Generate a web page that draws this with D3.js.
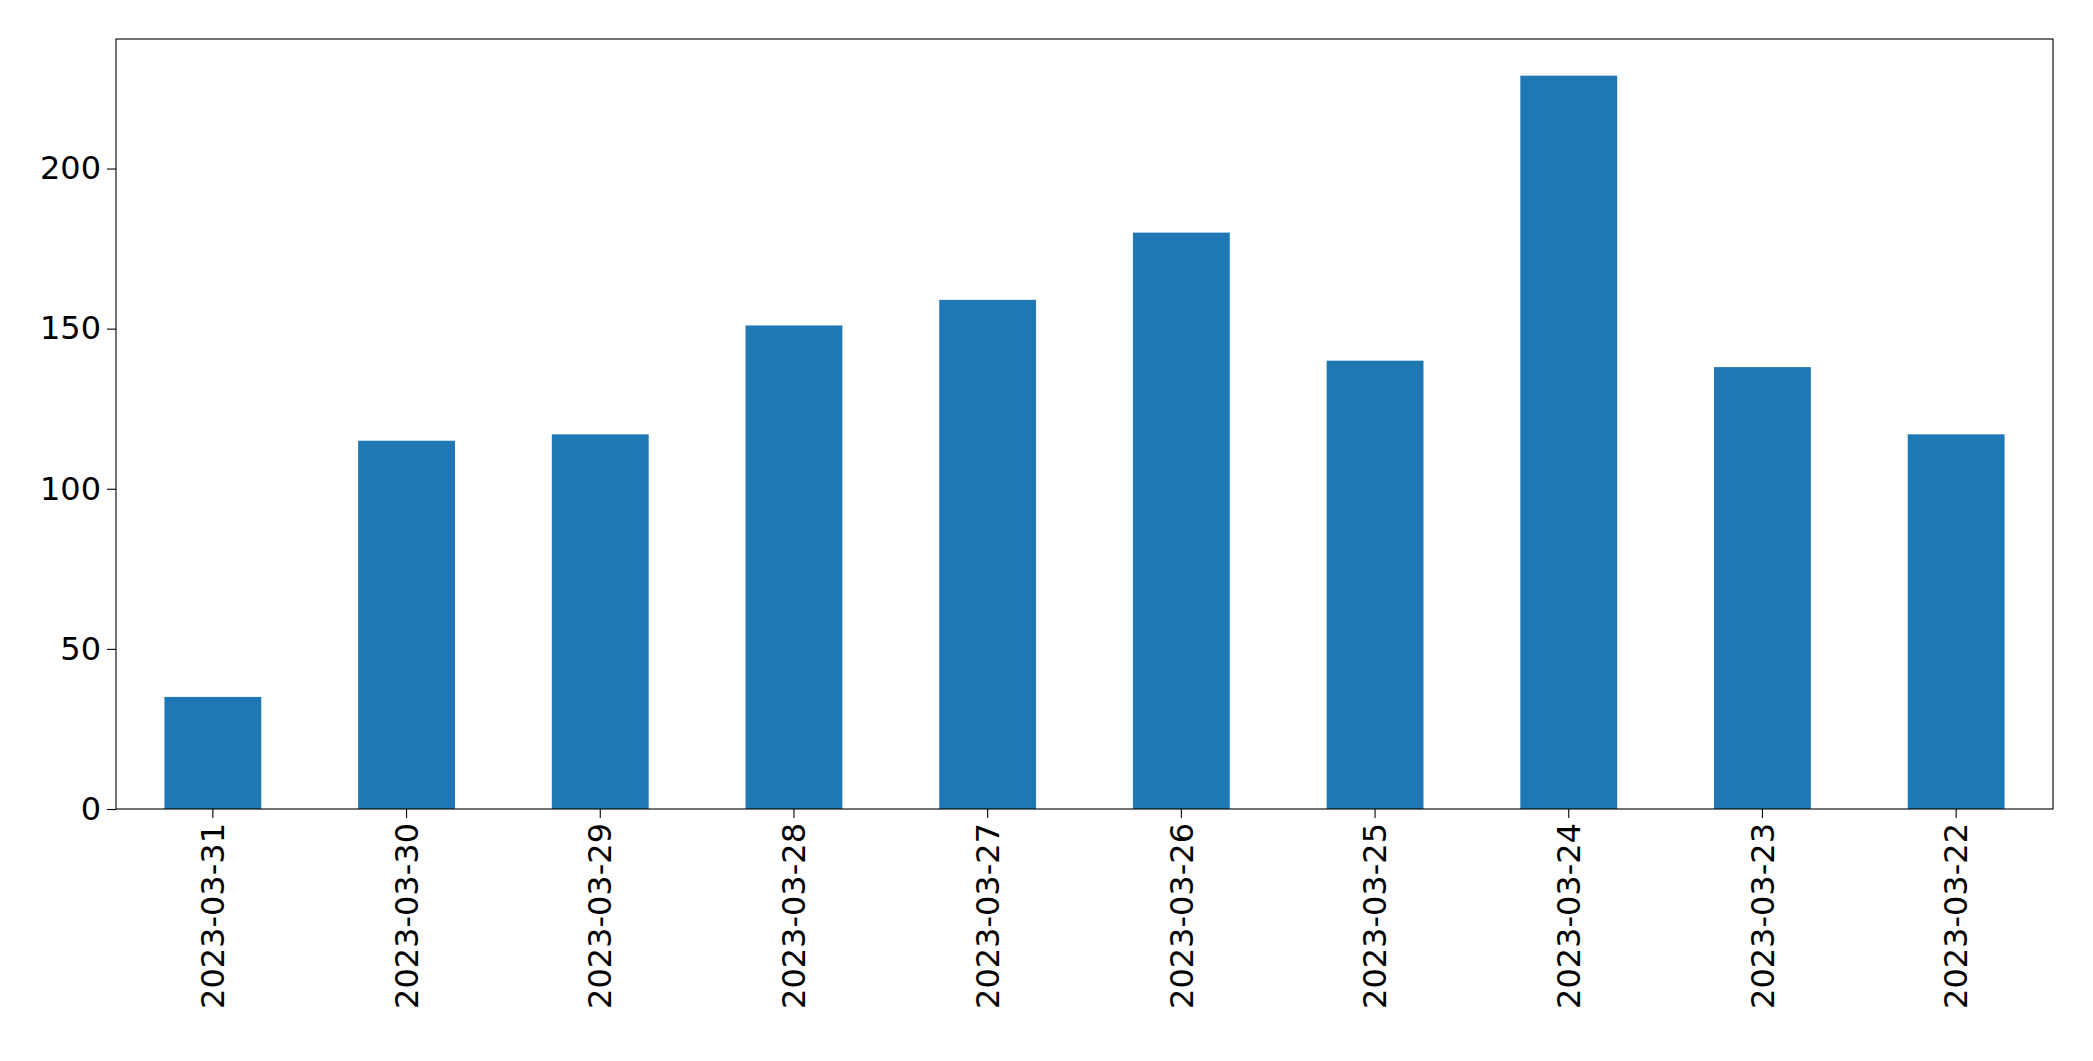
<!DOCTYPE html>
<html>
<head>
<meta charset="UTF-8">
<script src="https://d3js.org/d3.v7.min.js"></script>
<style>
  body { margin: 0; background: #fff; }
  text { font-family: "DejaVu Sans", sans-serif; }
</style>
</head>
<body>
<script>
const categories = ['2023-03-31', '2023-03-30', '2023-03-29', '2023-03-28', '2023-03-27',
                    '2023-03-26', '2023-03-25', '2023-03-24', '2023-03-23', '2023-03-22'];
const values = [35, 115, 117, 151, 159, 180, 140, 229, 138, 117];
const yTicks = [0, 50, 100, 150, 200];

const W = 2093, H = 1061;
const m = { left: 116, right: 40, top: 39, bottom: 252 };

const svg = d3.select('body').append('svg').attr('width', W).attr('height', H);

const x = d3.scaleBand().domain(categories)
  .range([m.left, W - m.right]).paddingInner(0.5).paddingOuter(0.25);
const y = d3.scaleLinear().domain([0, d3.max(values) * 1.05])
  .range([H - m.bottom, m.top]);

svg.selectAll('rect.bar').data(values).enter().append('rect')
  .attr('class', 'bar')
  .attr('x', (d, i) => x(categories[i]))
  .attr('y', d => y(d))
  .attr('width', x.bandwidth())
  .attr('height', d => y(0) - y(d))
  .attr('fill', '#1f77b4');

// frame
svg.append('rect')
  .attr('x', m.left).attr('y', m.top)
  .attr('width', W - m.left - m.right).attr('height', H - m.top - m.bottom)
  .attr('fill', 'none').attr('stroke', '#000').attr('stroke-width', 1.1);

const xAxis = svg.append('g')
  .attr('transform', `translate(0,${H - m.bottom})`)
  .call(d3.axisBottom(x).tickSize(9).tickPadding(8));
xAxis.selectAll('text')
  .attr('font-size', 32).attr('fill', '#000')
  .attr('transform', 'rotate(-90)')
  .attr('text-anchor', 'end')
  .attr('dx', '-14').attr('dy', '0.35em')
  .attr('x', 0).attr('y', 0);
xAxis.select('.domain').remove();

const yAxis = svg.append('g')
  .attr('transform', `translate(${m.left},0)`)
  .call(d3.axisLeft(y).tickValues(yTicks).tickSize(9).tickPadding(6));
yAxis.selectAll('text').attr('font-size', 32).attr('fill', '#000');
yAxis.select('.domain').remove();
svg.selectAll('.tick line').attr('stroke', '#000').attr('stroke-width', 1.1);
</script>
</body>
</html>
